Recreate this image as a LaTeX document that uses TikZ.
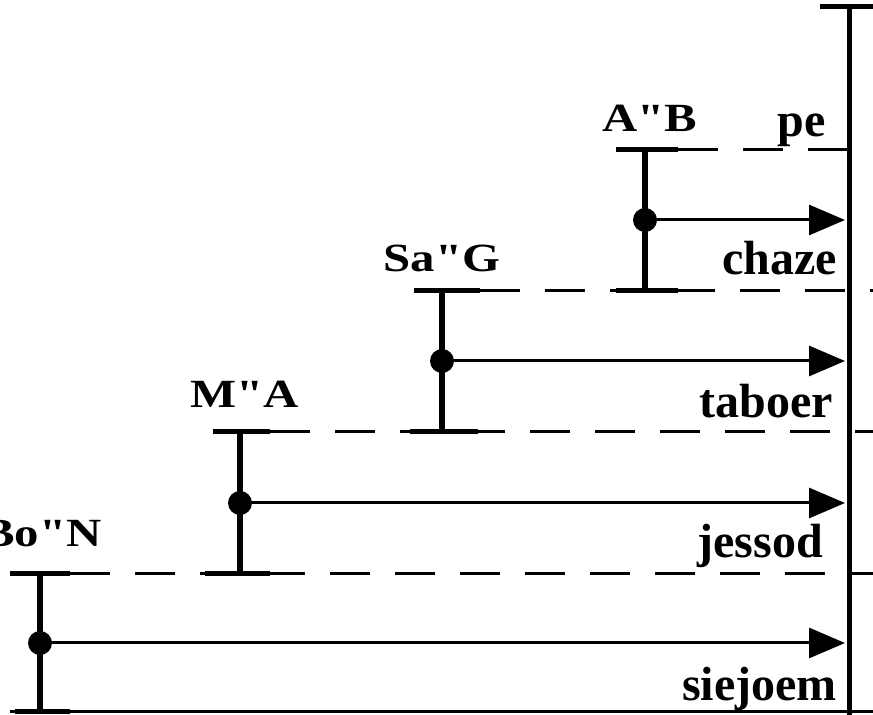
\documentclass[tikz,border=0pt]{standalone}
\usepackage{fontspec}
\setmainfont{Liberation Serif}[Ligatures=TeXOff]
\usetikzlibrary{arrows.meta}
\begin{document}
\begin{tikzpicture}[x=1pt,y=1pt,
  axisline/.style={line width=5pt},
  stem/.style={line width=6.5pt},
  capline/.style={line width=5pt},
  lvl/.style={line width=3pt,dash pattern=on 40pt off 25pt},
  flow/.style={line width=3pt,-{Triangle[length=36pt,width=30pt]}},
  dotnode/.style={circle,fill=black,inner sep=0pt,minimum size=24pt},
  seglabel/.style={font=\fontsize{40}{44}\selectfont\bfseries,xscale=1.22,inner sep=0pt,anchor=base},
  sefira/.style={font=\fontsize{48}{52}\selectfont\bfseries,inner sep=0pt,anchor=base east}]
\useasboundingbox (0,0) rectangle (873,715);
% axis
\coordinate (axT) at (849,708);
\coordinate (axB) at (849,0);
\draw[axisline] (axB) -- (axT);
\draw[capline] (820,708) -- (873,708);
% bottom line
\draw[line width=3pt] (10,3) -- (873,3);
% level lines
\draw[lvl] (678,565) -- (873,565);
\draw[lvl] (480,424) -- (873,424);
\draw[lvl] (270,283) -- (873,283);
\draw[lvl] (70,141) -- (873,141);
% Bo"N
\coordinate (bnT) at (40,141); \coordinate (bnB) at (40,3);
\draw[stem] (bnB) -- (bnT);
\draw[capline] (10,141) -- (70,141);
\draw[capline] (15,3) -- (70,3);
\node[dotnode] (bnD) at (40,72) {};
\coordinate (bnA) at (845,72);
\draw[flow] (bnD.center) -- (bnA);
\node[seglabel] (bnL) at (42,168) {Bo"N};
% M"A
\coordinate (maT) at (240,283); \coordinate (maB) at (240,141);
\draw[stem] (maB) -- (maT);
\draw[capline] (213,283) -- (270,283);
\draw[capline] (205,141) -- (270,141);
\node[dotnode] (maD) at (240,212) {};
\coordinate (maA) at (845,212);
\draw[flow] (maD.center) -- (maA);
\node[seglabel] (maL) at (245,307) {M"A};
% Sa"G
\coordinate (sgT) at (442,424); \coordinate (sgB) at (442,283);
\draw[stem] (sgB) -- (sgT);
\draw[capline] (414,424) -- (480,424);
\draw[capline] (410,283) -- (478,283);
\node[dotnode] (sgD) at (442,354) {};
\coordinate (sgA) at (845,354);
\draw[flow] (sgD.center) -- (sgA);
\node[seglabel] (sgL) at (442,443) {Sa"G};
% A"B
\coordinate (abT) at (645,565); \coordinate (abB) at (645,424);
\draw[stem] (abB) -- (abT);
\draw[capline] (616,565) -- (678,565);
\draw[capline] (616,424) -- (678,424);
\node[dotnode] (abD) at (645,495) {};
\coordinate (abA) at (845,495);
\draw[flow] (abD.center) -- (abA);
\node[seglabel] (abL) at (650,583) {A"B};
% sefirot labels
\node[sefira] (pe) at (826,578) {pe};
\node[sefira] (chaze) at (837,440) {chaze};
\node[sefira] (taboer) at (833,297) {taboer};
\node[sefira] (jessod) at (823,157) {jessod};
\node[sefira] (siejoem) at (837,14) {siejoem};
\end{tikzpicture}
\end{document}
